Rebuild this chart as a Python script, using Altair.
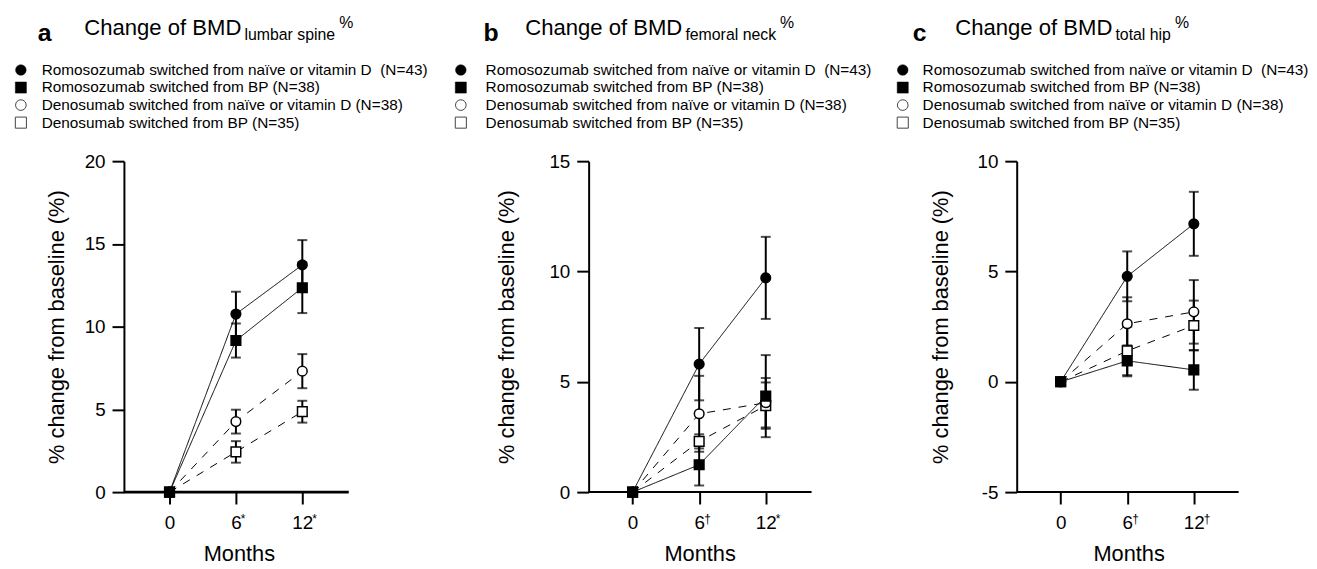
import altair as alt
import pandas as pd

FONT = "Liberation Sans"

SERIES = [
    "Romosozumab switched from naïve or vitamin D\u00a0 (N=43)",
    "Romosozumab switched from BP (N=38)",
    "Denosumab switched from naïve or vitamin D (N=38)",
    "Denosumab switched from BP (N=35)",
]
SHAPES = ["circle", "square", "circle", "square"]
FILLS = ["black", "black", "white", "white"]
DASHES = [[1, 0], [1, 0], [8, 8], [8, 8]]
MONTHS = [0, 6, 12]

# ---- panel a: lumbar spine (mean, error) ----
A_ROMO_NAIVE = [0, 10.76, 13.73]
A_ROMO_NAIVE_ERR = [0, 1.35, 1.50]
A_ROMO_BP = [0, 9.16, 12.35]
A_ROMO_BP_ERR = [0, 1.03, 1.53]
A_DENO_NAIVE = [0, 4.26, 7.31]
A_DENO_NAIVE_ERR = [0, 0.72, 1.03]
A_DENO_BP = [0, 2.43, 4.86]
A_DENO_BP_ERR = [0, 0.65, 0.66]

# ---- panel b: femoral neck ----
B_ROMO_NAIVE = [0, 5.80, 9.71]
B_ROMO_NAIVE_ERR = [0, 1.64, 1.86]
B_ROMO_BP = [0, 1.24, 4.35]
B_ROMO_BP_ERR = [0, 0.94, 1.86]
B_DENO_NAIVE = [0, 3.55, 4.05]
B_DENO_NAIVE_ERR = [0, 1.72, 1.12]
B_DENO_BP = [0, 2.30, 3.92]
B_DENO_BP_ERR = [0, 0.32, 1.05]

# ---- panel c: total hip ----
C_ROMO_NAIVE = [0, 4.78, 7.16]
C_ROMO_NAIVE_ERR = [0, 1.13, 1.45]
C_ROMO_BP = [0, 0.95, 0.54]
C_ROMO_BP_ERR = [0, 0.70, 0.90]
C_DENO_NAIVE = [0, 2.63, 3.17]
C_DENO_NAIVE_ERR = [0, 1.20, 1.44]
C_DENO_BP = [0, 1.40, 2.55]
C_DENO_BP_ERR = [0, 1.10, 1.13]

A_TICKS = [0, 5, 10, 15, 20]
B_TICKS = [0, 5, 10, 15]
C_TICKS = [-5, 0, 5, 10]
A_SUPS = ["*", "*"]
B_SUPS = ["\u2020", "*"]
C_SUPS = ["\u2020", "\u2020"]


def make_df(means, errs):
    rows = []
    for idx in [3, 2, 0, 1]:  # drawing order: filled markers on top
        for m, v, e in zip(MONTHS, means[idx], errs[idx]):
            rows.append({"series": SERIES[idx], "month": m, "value": v,
                         "lo": v - e, "hi": v + e, "has_err": e > 0})
    return pd.DataFrame(rows)


ONE = pd.DataFrame({"k": [0]})


def header_text(text, px, py, size, bold=False, baseline="alphabetic"):
    return alt.Chart(ONE).mark_text(
        text=text, font=FONT, fontSize=size, fontWeight="bold" if bold else "normal",
        align="left", baseline=baseline, color="black"
    ).encode(x=alt.value(px), y=alt.value(py))


def legend_layers(lx, tx, y0, step):
    out = []
    for i, s in enumerate(SERIES):
        yy = y0 + i * step
        out.append(alt.Chart(ONE).mark_point(
            filled=True, size=115 if SHAPES[i] == "circle" else 125,
            stroke="black" if FILLS[i] == "black" else "#444",
            strokeWidth=1 if FILLS[i] == "white" else 0.5, opacity=1
        ).encode(x=alt.value(lx), y=alt.value(yy), shape=alt.value(SHAPES[i]),
                 fill=alt.value(FILLS[i])))
        out.append(header_text(s, tx, yy, 15.5, baseline="middle"))
    return out


def panel(df, letter, sub, sub_em, sups, ydom, yticks, xdom, xline_end, width, height,
          lay, base_w, anchor=False):
    xscale = alt.Scale(domain=xdom, nice=False, zero=False)
    yscale = alt.Scale(domain=ydom, nice=False, zero=False)
    xaxis = alt.Axis(values=MONTHS, title="Months", domain=False, labelFlush=False,
                     labelPadding=10, titleX=lay["mx"], titleY=69,
                     titleBaseline="alphabetic", titleAlign="center")
    yaxis = alt.Axis(values=yticks, title="% change from baseline (%)",
                     labelExpr="'' + datum.value", labelPadding=7,
                     titleX=lay["yx"], titleY=height / 2)
    X = alt.X("month:Q", scale=xscale, axis=xaxis)

    base = alt.Chart(df)
    errdf = base.transform_filter("datum.has_err")

    baseline = alt.Chart(ONE).mark_rule(color="black", strokeWidth=base_w).encode(
        x=alt.datum(xdom[0]), x2=alt.datum(xline_end), y=alt.datum(ydom[0]))

    lines = base.mark_line(color="black", strokeWidth=1).encode(
        x=X,
        y=alt.Y("value:Q", scale=yscale, axis=yaxis),
        detail="series:N",
        strokeDash=alt.StrokeDash("series:N", scale=alt.Scale(domain=SERIES, range=DASHES),
                                  legend=None),
    )
    bars = errdf.mark_rule(color="black", strokeWidth=2).encode(
        x=X, y=alt.Y("lo:Q", scale=yscale, axis=yaxis), y2="hi:Q")
    cap_lo = errdf.mark_tick(color="black", thickness=2, size=10, orient="horizontal").encode(
        x=X, y=alt.Y("lo:Q", scale=yscale, axis=yaxis))
    cap_hi = errdf.mark_tick(color="black", thickness=2, size=10, orient="horizontal").encode(
        x=X, y=alt.Y("hi:Q", scale=yscale, axis=yaxis))
    points = base.mark_point(filled=True, size=95, stroke="black", strokeWidth=1.5,
                             opacity=1).encode(
        x=X,
        y=alt.Y("value:Q", scale=yscale, axis=yaxis),
        shape=alt.Shape("series:N", scale=alt.Scale(domain=SERIES, range=SHAPES), legend=None),
        fill=alt.Fill("series:N", scale=alt.Scale(domain=SERIES, range=FILLS), legend=None),
    )

    supdf = pd.DataFrame({"month": MONTHS[1:], "sup": sups})
    sup6 = alt.Chart(supdf).transform_filter("datum.month == 6").mark_text(
        font=FONT, fontSize=12, align="left", baseline="alphabetic", dx=5, color="black"
    ).encode(x=X, y=alt.value(height + 31), text="sup:N")
    sup12 = alt.Chart(supdf).transform_filter("datum.month == 12").mark_text(
        font=FONT, fontSize=12, align="left", baseline="alphabetic", dx=10, color="black"
    ).encode(x=X, y=alt.value(height + 31), text="sup:N")

    tfs = 22.3
    sfs = 16
    sub_x = lay["tx"] + 7.114 * tfs + 3
    pct_x = sub_x + sub_em * sfs + 4
    layers = [baseline, lines, bars, cap_lo, cap_hi, points, sup6, sup12,
              header_text(letter, lay["ax"], -121, 25, bold=True),
              header_text("Change of BMD", lay["tx"], -127, tfs),
              header_text(sub, sub_x, -122, sfs),
              header_text("%", pct_x, -134, sfs)]
    layers += legend_layers(lay["lx"], lay["ltx"], -92, 17.7)
    if anchor:
        layers.append(alt.Chart(ONE).mark_rule(strokeOpacity=0, strokeWidth=0).encode(
            x=alt.value(-117), x2=alt.value(-117), y=alt.value(-152), y2=alt.value(-140)))
    return alt.layer(*layers).properties(width=width, height=height)


def series_lists(*pairs):
    return [p[0] for p in pairs], [p[1] for p in pairs]


a_m, a_e = series_lists((A_ROMO_NAIVE, A_ROMO_NAIVE_ERR), (A_ROMO_BP, A_ROMO_BP_ERR),
                        (A_DENO_NAIVE, A_DENO_NAIVE_ERR), (A_DENO_BP, A_DENO_BP_ERR))
b_m, b_e = series_lists((B_ROMO_NAIVE, B_ROMO_NAIVE_ERR), (B_ROMO_BP, B_ROMO_BP_ERR),
                        (B_DENO_NAIVE, B_DENO_NAIVE_ERR), (B_DENO_BP, B_DENO_BP_ERR))
c_m, c_e = series_lists((C_ROMO_NAIVE, C_ROMO_NAIVE_ERR), (C_ROMO_BP, C_ROMO_BP_ERR),
                        (C_DENO_NAIVE, C_DENO_NAIVE_ERR), (C_DENO_BP, C_DENO_BP_ERR))

pa = panel(make_df(a_m, a_e), "a", "lumbar spine", 5.724, A_SUPS, [0, 20], A_TICKS,
           [-4.12, 19.34], 16.2, 262, 334,
           {"mx": 116, "yx": -56, "lx": -104, "ltx": -83, "ax": -87, "tx": -40},
           3, anchor=True)
pb = panel(make_df(b_m, b_e), "b", "femoral neck", 5.724, B_SUPS, [0, 15], B_TICKS,
           [-3.96, 16.13], 16.13, 225, 334,
           {"mx": 112, "yx": -71, "lx": -129, "ltx": -104, "ax": -106, "tx": -64},
           2)
pc = panel(make_df(c_m, c_e), "c", "total hip", 3.502, C_SUPS, [-5, 10], C_TICKS,
           [-3.96, 16.04], 16.04, 224, 334,
           {"mx": 113, "yx": -65, "lx": -115, "ltx": -95, "ax": -105, "tx": -62},
           2)

chart = alt.hconcat(pa, pb, pc, spacing=207, bounds="flush").resolve_scale(
    x="independent", y="independent", shape="independent", fill="independent",
    strokeDash="independent"
).properties(
    padding={"left": 0, "top": 0, "right": 0, "bottom": 0}
).configure_view(stroke=None).configure_axis(
    grid=False, domainColor="black", domainWidth=2, tickColor="black", tickWidth=2,
    tickSize=12, labelColor="black", labelFont=FONT, labelFontSize=19,
    titleFont=FONT, titleFontSize=22, titleFontWeight="normal", titleColor="black"
)

chart.save("out.html", embed_options={"renderer": "svg", "actions": False})
